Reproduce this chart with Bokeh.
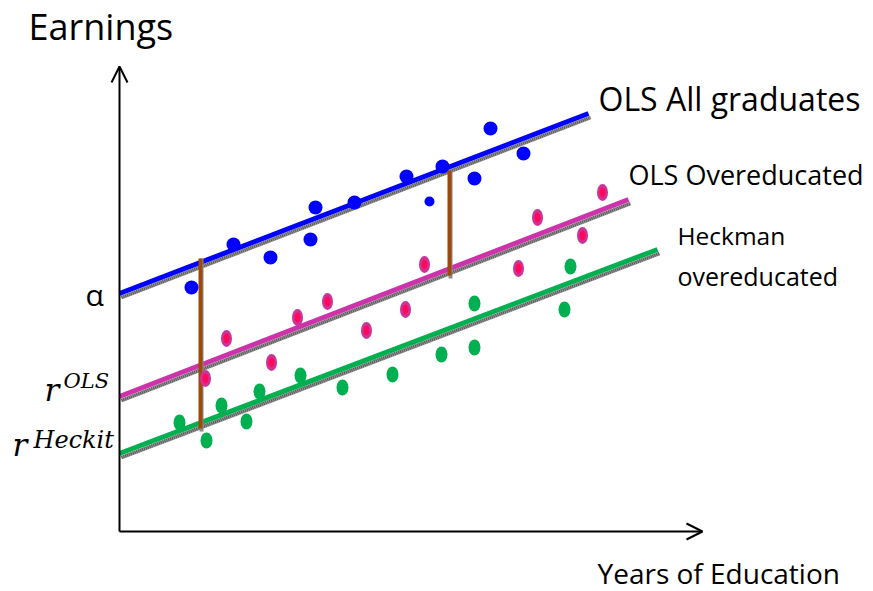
from bokeh.plotting import figure
from bokeh.models import Range1d, Arrow, OpenHead
from bokeh.core.properties import value
from bokeh.embed import file_html
from bokeh.resources import INLINE

# ---- data (schematic units: education on x, earnings on y) ----
blue_x = [72, 114, 151, 191, 196, 235, 287, 323, 355, 371, 404]
blue_y = [244, 287, 274, 292, 324, 329, 355, 365, 353, 403, 378]
blue_small_x = [310]
blue_small_y = [330]

pink_x = [86, 107, 152, 178, 208, 247, 286, 305, 399, 418, 463, 483]
pink_y = [153, 193, 169, 214, 230, 201, 222, 267, 263, 314, 296, 339]

green_x = [60, 87, 102, 127, 140, 181, 223, 273, 322, 355, 355, 445, 451]
green_y = [109, 91, 126, 110, 140, 156, 144, 157, 177, 184, 228, 222, 265]

# fitted lines: start and end points
line_names = ["OLS All graduates", "OLS Overeducated", "Heckman overeducated"]
line_x0 = [0, 0, 0]
line_y0 = [238, 135, 78]
line_x1 = [469, 509, 538]
line_y1 = [418, 332, 282]
line_colors = ["#0000ff", "#cc33aa", "#00b050"]

# gaps (brown vertical segments)
gap_x = [81, 330]
gap_top = [273, 361]
gap_bottom = [103, 256]

# axes extents
x_axis_end = 583
y_axis_end = 465

labels = ["Earnings", "Years of Education", "OLS All graduates", "OLS Overeducated", "Heckman", "overeducated", "α"]

p = figure(width=873, height=591, x_range=Range1d(-119, 754), y_range=Range1d(-60, 531),
           output_backend="svg", toolbar_location=None, min_border=0,
           x_axis_type=None, y_axis_type=None)
p.grid.visible = False
p.outline_line_color = None
p.background_fill_color = "white"

# axes with arrows
p.add_layout(Arrow(end=OpenHead(size=16, line_width=2, line_color="black"),
                   x_start=0, y_start=0, x_end=0, y_end=y_axis_end,
                   line_width=2, line_color="black"))
p.add_layout(Arrow(end=OpenHead(size=16, line_width=2, line_color="black"),
                   x_start=0, y_start=0, x_end=x_axis_end, y_end=0,
                   line_width=2, line_color="black"))

# fitted lines with gray shadow
sx0 = [v + 2 for v in line_x0]
sx1 = [v + 2 for v in line_x1]
sy0 = [v - 4 for v in line_y0]
sy1 = [v - 4 for v in line_y1]
p.segment(x0=sx0, y0=sy0, x1=sx1, y1=sy1, line_color="#9a9a9a", line_width=4)
p.segment(x0=sx0, y0=sy0, x1=sx1, y1=sy1, line_color="#555555", line_width=3, line_dash="1 1")
p.segment(x0=line_x0, y0=line_y0, x1=line_x1, y1=line_y1, line_color=line_colors, line_width=5)

# brown gap segments with small shadow
p.segment(x0=[v + 1 for v in gap_x], y0=[v - 3 for v in gap_bottom], x1=[v + 1 for v in gap_x],
          y1=gap_top, line_color="#8a8a8a", line_width=4)
p.segment(x0=gap_x, y0=gap_bottom, x1=gap_x, y1=gap_top, line_color="#9c4a0c", line_width=4)

# points
p.circle(x=blue_x, y=blue_y, radius=7, fill_color="#0000ff", line_color=None)
p.circle(x=blue_small_x, y=blue_small_y, radius=5, fill_color="#0000ff", line_color=None)
p.ellipse(x=pink_x, y=pink_y, width=11, height=17, fill_color="#cc3399", line_color=None)
p.ellipse(x=pink_x, y=pink_y, width=6, height=10, fill_color="#ff0a5a", line_color=None)
p.ellipse(x=green_x, y=green_y, width=12, height=16, fill_color="#00b050", line_color=None)

# texts
F = value("Open Sans")
def txt(x, y, s, size):
    p.text(x=[x], y=[y], text=[s], text_font=F, text_font_size=size,
           text_color="black", text_align="left", text_baseline="alphabetic")

txt(-91, 505, labels[0], "36px")
txt(478, -41, labels[1], "28px")
txt(479, 433, labels[2], "32px")
txt(509, 357, labels[3], "27px")
txt(558, 296, labels[4], "24.5px")
txt(558, 256, labels[5], "25px")
txt(-34, 237, labels[6], "30px")

M = value("DejaVu Serif")
def mtxt(x, y, s, size):
    p.text(x=[x], y=[y], text=[s], text_font=M, text_font_size=size, text_font_style="italic",
           text_color="black", text_align="left", text_baseline="alphabetic")

mtxt(-75, 142, "r", "31px")
mtxt(-56, 151, "OLS", "21px")
mtxt(-107, 87, "r", "31px")
mtxt(-86, 92, "Heckit", "24px")

open("out.html", "w").write(file_html(p, INLINE))
